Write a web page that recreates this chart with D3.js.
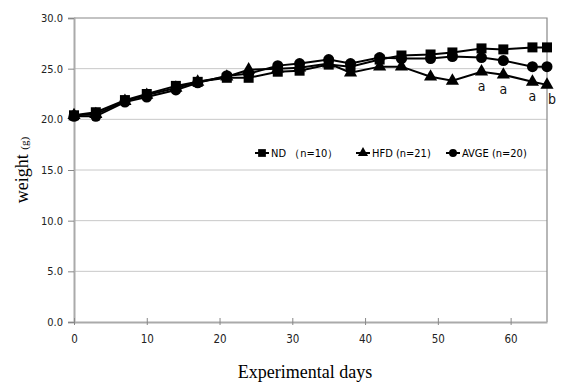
<!DOCTYPE html>
<html>
<head>
<meta charset="utf-8">
<script src="https://cdn.jsdelivr.net/npm/d3@7"></script>
<style>
  body { margin: 0; background: #fff; }
  svg { display: block; }
</style>
</head>
<body>
<svg id="drawing_region"></svg>
<script>
const days = [0, 3, 7, 10, 14, 17, 21, 24, 28, 31, 35, 38, 42, 45, 49, 52, 56, 59, 63, 65];
const nd   = [20.4, 20.7, 21.9, 22.5, 23.3, 23.7, 24.1, 24.1, 24.7, 24.8, 25.4, 25.2, 25.9, 26.3, 26.4, 26.6, 27.0, 26.9, 27.1, 27.1];
const hfd  = [20.4, 20.5, 21.8, 22.4, 23.1, 23.7, 24.2, 24.9, 25.0, 25.1, 25.5, 24.6, 25.2, 25.2, 24.2, 23.8, 24.7, 24.4, 23.7, 23.4];
const avge = [20.3, 20.3, 21.7, 22.2, 22.9, 23.6, 24.3, 24.5, 25.3, 25.5, 25.9, 25.5, 26.1, 26.0, 26.0, 26.2, 26.1, 25.8, 25.2, 25.2];
const yticks = [0, 5, 10, 15, 20, 25, 30];
const xticks = [0, 10, 20, 30, 40, 50, 60];
const sigLabels = [
  {day: 56, text: 'a'}, {day: 59, text: 'a'}, {day: 63, text: 'a'}, {day: 65, text: 'b'}
];

const config = {
  width: 572,
  height: 387,
  margin: {top: 18, right: 25, bottom: 65, left: 74}
};

const svg = d3.select('#drawing_region')
  .attr('width', config.width)
  .attr('height', config.height);

const inner_width = config.width - config.margin.left - config.margin.right;
const inner_height = config.height - config.margin.top - config.margin.bottom;

const chart = svg.append('g')
  .attr('transform', `translate(${config.margin.left}, ${config.margin.top})`);

const xscale = d3.scaleLinear().domain([0, 65]).range([0, inner_width]);
const yscale = d3.scaleLinear().domain([0, 30]).range([inner_height, 0]);

const tickFont = '"DejaVu Sans Condensed", "Liberation Sans Narrow", sans-serif';

// grid lines
chart.append('g')
  .selectAll('line')
  .data(yticks.filter(d => d > 0 && d < 30))
  .join('line')
  .attr('x1', 0).attr('x2', inner_width)
  .attr('y1', d => yscale(d)).attr('y2', d => yscale(d))
  .attr('stroke', '#c8c8c8').attr('stroke-width', 1);

// plot border (top / right)
chart.append('path')
  .attr('d', `M0,${yscale(30)}H${inner_width}V${inner_height}`)
  .attr('fill', 'none').attr('stroke', '#888').attr('stroke-width', 1.2);

// y axis
const yaxis = d3.axisLeft(yscale).tickValues(yticks).tickSize(6).tickFormat(d3.format('.1f'));
const yaxis_group = chart.append('g').call(yaxis);
yaxis_group.select('.domain').attr('stroke', '#aaa').attr('stroke-width', 2);
yaxis_group.selectAll('.tick line').attr('stroke', '#888');
yaxis_group.selectAll('.tick text')
  .attr('x', -11)
  .style('font-family', tickFont).style('font-size', '11px').attr('fill', '#222');

// x axis
const xaxis = d3.axisBottom(xscale).tickValues(xticks).tickSizeInner(4).tickSizeOuter(0);
const xaxis_group = chart.append('g')
  .attr('transform', `translate(0, ${inner_height})`)
  .call(xaxis);
xaxis_group.select('.domain').attr('stroke', '#aaa').attr('stroke-width', 2);
xaxis_group.selectAll('.tick line').attr('stroke', '#888').attr('y1', -4).attr('y2', 3);
xaxis_group.selectAll('.tick text')
  .attr('y', 13)
  .style('font-family', tickFont).style('font-size', '11.5px').attr('fill', '#222');

// axis titles
svg.append('text')
  .attr('x', 305).attr('y', 378)
  .attr('text-anchor', 'middle')
  .style('font-family', '"Liberation Serif", serif').style('font-size', '18px')
  .text('Experimental days');

const ytitle = svg.append('text')
  .attr('transform', 'translate(28, 170) rotate(-90)')
  .attr('text-anchor', 'middle')
  .style('font-family', '"Liberation Serif", serif').style('font-size', '18px');
ytitle.append('tspan').text('weight ');
ytitle.append('tspan').style('font-size', '11px').text('(g)');

// series
const series = [
  {name: 'HFD (n=21)', values: hfd, symbol: d3.symbolTriangle, size: 75},
  {name: 'AVGE (n=20)', values: avge, symbol: d3.symbolCircle, size: 95},
  {name: 'ND  （n=10）', values: nd, symbol: d3.symbolSquare, size: 100}
];

const line = d3.line()
  .x((d, i) => xscale(days[i]))
  .y(d => yscale(d));

series.forEach(s => {
  const g = chart.append('g');
  g.append('path')
    .attr('d', line(s.values))
    .attr('fill', 'none').attr('stroke', '#000').attr('stroke-width', 2);
  g.selectAll('path.mark')
    .data(s.values)
    .join('path')
    .attr('class', 'mark')
    .attr('transform', (d, i) => `translate(${xscale(days[i])}, ${yscale(d)})`)
    .attr('d', d3.symbol().type(s.symbol).size(s.size))
    .attr('fill', '#000');
});

// significance labels
chart.append('g')
  .selectAll('text')
  .data(sigLabels)
  .join('text')
  .attr('x', d => xscale(d.day) + (d.text === 'b' ? 5 : 0))
  .attr('y', d => yscale(hfd[days.indexOf(d.day)]) + 19)
  .attr('text-anchor', 'middle')
  .style('font-family', '"DejaVu Sans Condensed", sans-serif').style('font-size', '14px')
  .attr('fill', '#111')
  .text(d => d.text);

// legend
const legendItems = [
  {name: 'ND  （n=10）', symbol: d3.symbolSquare, size: 60, x: 255},
  {name: 'HFD (n=21)', symbol: d3.symbolTriangle, size: 45, x: 356},
  {name: 'AVGE (n=20)', symbol: d3.symbolCircle, size: 50, x: 446}
];
const legend = svg.append('g').attr('transform', 'translate(0, 153)');
legendItems.forEach(it => {
  legend.append('line')
    .attr('x1', it.x).attr('x2', it.x + 14)
    .attr('stroke', '#000').attr('stroke-width', 2);
  legend.append('path')
    .attr('transform', `translate(${it.x + 7}, 0)`)
    .attr('d', d3.symbol().type(it.symbol).size(it.size));
  legend.append('text')
    .attr('x', it.x + 16).attr('y', 4)
    .style('font-family', tickFont).style('font-size', '11px')
    .text(it.name);
});
</script>
</body>
</html>
